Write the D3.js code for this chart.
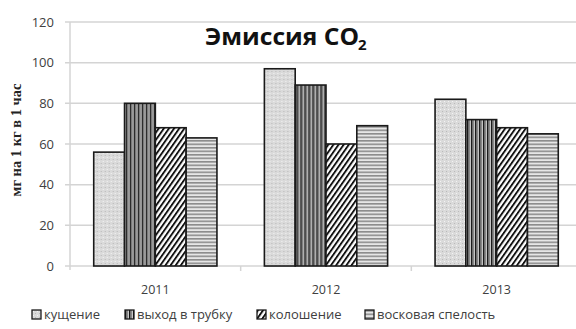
<!DOCTYPE html>
<html>
<head>
<meta charset="utf-8">
<script src="https://cdn.jsdelivr.net/npm/d3@7"></script>
<style>
  body { margin: 0; background: #fff; }
  svg { display: block; }
</style>
</head>
<body>
<svg id="chart" width="576" height="329"></svg>
<script>
// Data: CO2 emission per growth stage, by year
const years = ["2011", "2012", "2013"];
const stages = ["кущение", "выход в трубку", "колошение", "восковая спелость"];
const values2011 = [56, 80, 68, 63];
const values2012 = [97, 89, 60, 69];
const values2013 = [82, 72, 68, 65];
const yTicks = [0, 20, 40, 60, 80, 100, 120];
const seriesByYear = [values2011, values2012, values2013];

const svg = d3.select("#chart");
const W = 576, H = 329;
const margin = { left: 70, top: 22, bottom: 63 };
const plotRight = 582;

// Fill patterns for each stage
const defs = svg.append("defs");
function pattern(id, w, h, draw, transform) {
  const p = defs.append("pattern").attr("id", id)
    .attr("patternUnits", "userSpaceOnUse")
    .attr("width", w).attr("height", h);
  if (transform) p.attr("patternTransform", transform);
  draw(p);
}
pattern("pDots", 4, 4, p => {
  p.append("rect").attr("width", 4).attr("height", 4).attr("fill", "#dadada");
  p.append("rect").attr("x", 1).attr("y", 1).attr("width", 1).attr("height", 1).attr("fill", "#f4f4f4");
  p.append("rect").attr("x", 3).attr("y", 3).attr("width", 1).attr("height", 1).attr("fill", "#b8b8b8");
});
pattern("pVert", 4, 4, p => {
  p.append("rect").attr("width", 4).attr("height", 4).attr("fill", "#d8d8d8");
  p.append("rect").attr("x", 0).attr("width", 1.5).attr("height", 4).attr("fill", "#111");
  p.append("rect").attr("x", 2).attr("width", 1.2).attr("height", 4).attr("fill", "#888");
});
pattern("pDiag", 4.2, 4.2, p => {
  p.append("rect").attr("width", 4.2).attr("height", 4.2).attr("fill", "#fff");
  p.append("rect").attr("x", 0).attr("width", 1.9).attr("height", 4.2).attr("fill", "#111");
}, "rotate(35)");
pattern("pHoriz", 4, 3.5, p => {
  p.append("rect").attr("width", 4).attr("height", 3.5).attr("fill", "#e6e6e6");
  p.append("rect").attr("y", 0).attr("width", 4).attr("height", 1.6).attr("fill", "#8c8c8c");
});
const fills = ["url(#pDots)", "url(#pVert)", "url(#pDiag)", "url(#pHoriz)"];

const y = d3.scaleLinear().domain([0, 120]).range([266, margin.top]);
const x0 = d3.scaleBand().domain(years).range([margin.left, plotRight])
  .paddingInner(0.278).paddingOuter(0.139);
const x1 = d3.scaleBand().domain(stages).range([0, x0.bandwidth()]);
const xTickScale = d3.scaleBand().domain(years).range([margin.left, plotRight]);

// Gridlines
svg.append("g").selectAll("line").data(yTicks).join("line")
  .attr("x1", margin.left - 5).attr("x2", W)
  .attr("y1", d => y(d)).attr("y2", d => y(d))
  .attr("stroke", "#d4d4d4").attr("stroke-width", 1.5);

// Y axis line
svg.append("line").attr("x1", margin.left).attr("x2", margin.left)
  .attr("y1", y(120)).attr("y2", y(0) + 4)
  .attr("stroke", "#d4d4d4").attr("stroke-width", 1.5);

// Category separator ticks
svg.append("g").selectAll("line").data(years.slice(1)).join("line")
  .attr("x1", d => xTickScale(d)).attr("x2", d => xTickScale(d))
  .attr("y1", y(0)).attr("y2", y(0) + 5)
  .attr("stroke", "#d4d4d4").attr("stroke-width", 1.5);

// Y tick labels
svg.append("g").selectAll("text").data(yTicks).join("text")
  .attr("x", 54).attr("y", d => y(d)).attr("dy", "0.35em")
  .attr("text-anchor", "end")
  .attr("font-family", "'Open Sans', 'DejaVu Sans', sans-serif")
  .attr("font-size", 13).attr("fill", "#404040")
  .text(d => d);

// Bars
const groups = svg.append("g").selectAll("g").data(years).join("g")
  .attr("transform", d => `translate(${x0(d)},0)`);
groups.selectAll("rect")
  .data((d, i) => seriesByYear[i].map((v, j) => ({ stage: stages[j], v, j })))
  .join("rect")
  .attr("x", d => x1(d.stage))
  .attr("y", d => y(d.v))
  .attr("width", x1.bandwidth())
  .attr("height", d => y(0) - y(d.v))
  .attr("fill", d => fills[d.j])
  .attr("stroke", "#1a1a1a").attr("stroke-width", 1.6);

// X labels
svg.append("g").selectAll("text").data(years).join("text")
  .attr("x", d => x0(d) + x0.bandwidth() / 2).attr("y", 294)
  .attr("text-anchor", "middle")
  .attr("font-family", "'Open Sans', 'DejaVu Sans', sans-serif")
  .attr("font-size", 12.5).attr("fill", "#404040")
  .text(d => d);

// Title
const title = svg.append("text").attr("x", 205).attr("y", 45)
  .attr("font-family", "'Open Sans', 'DejaVu Sans', sans-serif")
  .attr("font-weight", "bold").attr("font-size", 23).attr("fill", "#111")
  .attr("textLength", 154).attr("lengthAdjust", "spacingAndGlyphs");
title.append("tspan").text("Эмиссия CO");
svg.append("text").attr("x", 358).attr("y", 50)
  .attr("font-family", "'Open Sans', 'DejaVu Sans', sans-serif")
  .attr("font-weight", "bold").attr("font-size", 15).attr("fill", "#111")
  .text("2");

// Y axis title
svg.append("text")
  .attr("transform", "translate(21,140) rotate(-90)")
  .attr("text-anchor", "middle")
  .attr("font-family", "'Liberation Serif', 'Times New Roman', serif")
  .attr("font-weight", "bold").attr("font-size", 14.5).attr("fill", "#222")
  .text("мг на 1 кг в 1 час");

// Legend
const legendX = [32, 125, 257, 365];
const legend = svg.append("g").selectAll("g").data(stages).join("g")
  .attr("transform", (d, i) => `translate(${legendX[i]},310)`);
legend.append("rect").attr("width", 9).attr("height", 9)
  .attr("fill", (d, i) => fills[i]).attr("stroke", "#1a1a1a").attr("stroke-width", 1.3);
legend.append("text").attr("x", 12).attr("y", 9)
  .attr("font-family", "'Open Sans', 'DejaVu Sans', sans-serif")
  .attr("font-size", 13).attr("fill", "#404040")
  .text(d => d);
</script>
</body>
</html>
